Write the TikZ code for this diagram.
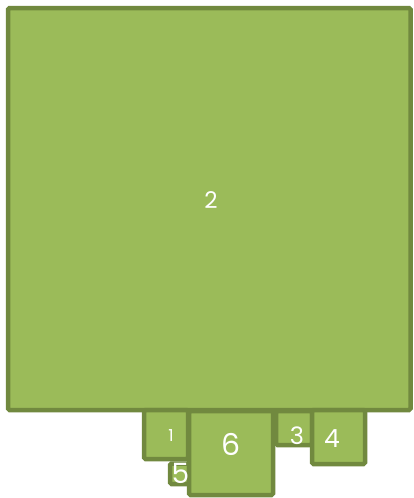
\documentclass[tikz,border=0pt]{standalone}
\usepackage{fontspec}
\setmainfont{Poppins}
\definecolor{boxfill}{HTML}{9BBB59}
\definecolor{boxline}{HTML}{71893F}
\begin{document}
\begin{tikzpicture}[x=1pt,y=-1pt,
  cell/.style={draw=boxline,fill=boxfill,line width=4.5pt,rounded corners=1.5pt},
  lbl/.style={text=white,inner sep=0pt,anchor=center}]
\useasboundingbox (0,0) rectangle (414,498);
\draw[cell] (8,8) rectangle (410.5,410);
\node[lbl,font=\fontsize{23}{23}\selectfont] (t2) at (211,200) {2};
\draw[cell] (170,463.5) rectangle (189,484);
\draw[cell] (144,410) rectangle (188,459);
\draw[cell] (189,411) rectangle (273,495);
\draw[cell] (276,411) rectangle (312,445);
\draw[cell] (312,410) rectangle (365,464);
\node[lbl,font=\fontsize{16.5}{16.5}\selectfont] (t1) at (171,436) {1};
\node[lbl,font=\fontsize{28}{28}\selectfont] (t5) at (180.5,473) {5};
\node[lbl,font=\fontsize{30}{30}\selectfont] (t6) at (231,444) {6};
\node[lbl,font=\fontsize{24}{24}\selectfont] (t3) at (297,436) {3};
\node[lbl,font=\fontsize{25}{25}\selectfont] (t4) at (332,439) {4};
\end{tikzpicture}
\end{document}
